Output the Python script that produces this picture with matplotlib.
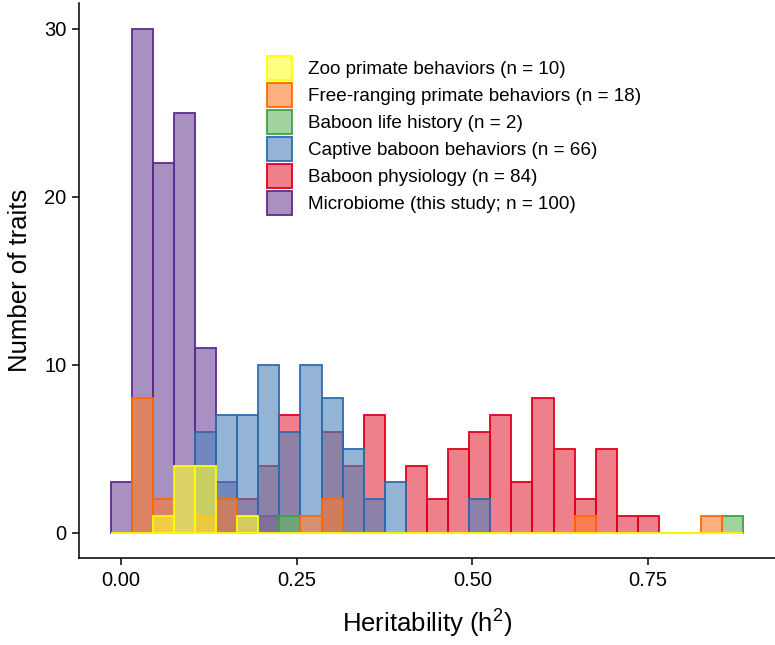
import numpy as np
import matplotlib
matplotlib.use("Agg")
import matplotlib.pyplot as plt
from matplotlib.patches import Patch

plt.rcParams['font.family'] = ['Liberation Sans', 'DejaVu Sans']
plt.rcParams['mathtext.fontset'] = 'custom'
plt.rcParams['mathtext.rm'] = 'Liberation Sans'

# histogram structure: 30 bins, data range 0 .. 0.871
n_bins = 30
h2_min, h2_max = 0.0, 0.871

labels = [
    "Zoo primate behaviors (n = 10)",
    "Free-ranging primate behaviors (n = 18)",
    "Baboon life history (n = 2)",
    "Captive baboon behaviors (n = 66)",
    "Baboon physiology (n = 84)",
    "Microbiome (this study; n = 100)",
]

# counts per bin (bins 0..29)
zoo_counts =        [0, 0, 1, 4, 4, 0, 1, 0, 0, 0, 0, 0, 0, 0, 0, 0, 0, 0, 0, 0, 0, 0, 0, 0, 0, 0, 0, 0, 0, 0]
free_counts =       [0, 8, 2, 0, 1, 2, 0, 0, 0, 1, 2, 0, 0, 0, 0, 0, 0, 0, 0, 0, 0, 0, 1, 0, 0, 0, 0, 0, 1, 0]
lifehist_counts =   [0, 0, 0, 0, 0, 0, 0, 0, 1, 0, 0, 0, 0, 0, 0, 0, 0, 0, 0, 0, 0, 0, 0, 0, 0, 0, 0, 0, 0, 1]
captive_counts =    [0, 0, 0, 0, 6, 7, 7, 10, 6, 10, 8, 5, 2, 3, 0, 0, 0, 2, 0, 0, 0, 0, 0, 0, 0, 0, 0, 0, 0, 0]
physiology_counts = [0, 0, 0, 0, 0, 0, 2, 4, 7, 0, 6, 4, 7, 0, 4, 2, 5, 6, 7, 3, 8, 5, 2, 5, 1, 1, 0, 0, 0, 0]
microbiome_counts = [3, 30, 22, 25, 11, 3, 0, 1, 0, 0, 0, 0, 0, 0, 0, 0, 0, 0, 0, 0, 0, 0, 0, 0, 0, 0, 0, 0, 0, 0]

series = [zoo_counts, free_counts, lifehist_counts, captive_counts, physiology_counts, microbiome_counts]
fills = ["#ffff2b", "#ff7b2b", "#61b761", "#4d82bb", "#e32b3f", "#6e4696"]
edges = ["#ffff00", "#ff6a00", "#3fa33f", "#2e6bb0", "#e3001b", "#5b2c8f"]

bin_w = (h2_max - h2_min) / (n_bins - 1)
centers = h2_min + np.arange(n_bins) * bin_w

W, H = 775, 645
ax_l, ax_r, ax_t, ax_b = 79, 775, 3.5, 558
fig = plt.figure(figsize=(W / 100, H / 100), dpi=100)
ax = fig.add_axes([ax_l / W, 1 - ax_b / H, (ax_r - ax_l) / W, (ax_b - ax_t) / H])

# draw in reverse legend order (microbiome bottom, zoo on top)
for i in reversed(range(len(series))):
    ax.bar(centers, series[i], width=bin_w, color=fills[i], alpha=0.6,
           edgecolor='none', linewidth=0, zorder=2 + (5 - i) * 2)
    ax.bar(centers, series[i], width=bin_w, fill=False, edgecolor=edges[i],
           linewidth=1.3, zorder=3 + (5 - i) * 2)

lo = h2_min - bin_w / 2
hi = h2_max + bin_w / 2
pad = 0.05 * (hi - lo)
ax.set_xlim(lo - pad, hi + pad)
ymax = max(max(s) for s in series)
ax.set_ylim(-0.05 * ymax, 1.05 * ymax)
ax.set_xticks([0.0, 0.25, 0.5, 0.75])
ax.set_xticklabels(["0.00", "0.25", "0.50", "0.75"])
ax.set_yticks([0, 10, 20, 30])

for s in ['top', 'right']:
    ax.spines[s].set_visible(False)
for s in ['left', 'bottom']:
    ax.spines[s].set_linewidth(1.1)
    ax.spines[s].set_color('black')
ax.tick_params(axis='both', length=5, width=1.1, color='black', labelsize=14.5,
               labelcolor='black', pad=4)

ax.set_xlabel(r"Heritability (h$^{\mathregular{2}}$)", fontsize=18.5, labelpad=12)
ax.set_ylabel("Number of traits", fontsize=18.5, labelpad=9)

handles = [Patch(facecolor=matplotlib.colors.to_rgba(fills[i], 0.6), edgecolor=edges[i],
                 linewidth=1.3) for i in range(len(series))]
leg = ax.legend(handles, labels, loc='upper left', bbox_to_anchor=(0.270, 0.906),
                frameon=False, fontsize=13.6, handlelength=1.32, handleheight=1.6,
                handletextpad=0.85, labelspacing=0.15, borderpad=0, borderaxespad=0)

fig.savefig("out.png", dpi=100)
